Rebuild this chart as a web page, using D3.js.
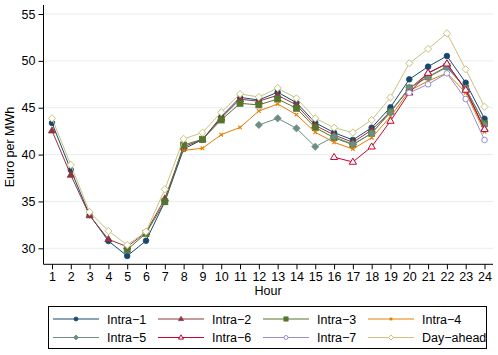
<!DOCTYPE html>
<html><head><meta charset="utf-8">
<script src="https://cdn.jsdelivr.net/npm/d3@7"></script>
<style>body{margin:0;background:#fff}svg{display:block;font-family:"Liberation Sans",Arial,sans-serif}</style>
</head><body><svg id="c" width="498" height="355"></svg>
<script>
const hours = d3.range(1, 25);
const yTicks = [30, 35, 40, 45, 50, 55];
const seriesNames = ["Intra\u22121","Intra\u22122","Intra\u22123","Intra\u22124","Intra\u22125","Intra\u22126","Intra\u22127","Day\u2212ahead"];
const intra1 = [43.37,38.36,33.55,30.78,29.18,30.81,34.97,40.6,41.6,44.05,46.1,45.83,46.65,45.54,43.4,42.34,41.56,42.87,45.05,48.03,49.38,50.52,47.67,43.83];
const intra2 = [42.55,37.82,33.5,30.96,30.17,31.7,35.3,40.84,41.6,43.9,45.9,45.7,46.33,45.3,43.1,42.1,41.3,42.63,44.6,47.0,48.7,49.7,46.9,42.76];
const intra3 = [null,null,null,null,29.85,31.6,34.97,41.02,41.63,43.69,45.47,45.3,45.93,44.94,42.87,41.8,41.05,42.27,44.6,47.1,48.3,49.4,47.07,43.3];
const intra4 = [null,null,null,null,null,null,null,40.45,40.67,42.12,42.9,44.65,45.4,44.26,42.38,41.3,40.6,41.8,44.05,46.8,47.85,48.7,46.6,42.44];
const intra5 = [null,null,null,null,null,null,null,null,null,null,null,43.16,43.87,42.8,40.84,41.91,41.1,42.27,44.48,47.14,48.25,49.3,47.07,43.16];
const intra6 = [null,null,null,null,null,null,null,null,null,null,null,null,null,null,null,39.72,39.21,40.84,43.58,46.6,48.7,49.7,46.9,42.7];
const intra7 = [null,null,null,null,null,null,null,null,null,null,null,null,null,null,null,null,null,null,null,46.6,47.5,48.67,45.93,41.56];
const dayAhead = [43.87,38.89,33.87,31.85,30.35,31.77,36.3,41.68,42.34,44.51,46.47,46.14,47.1,46.0,43.87,42.87,42.34,43.69,46.1,49.74,51.27,52.94,49.1,45.11];

const allValues = [intra1,intra2,intra3,intra4,intra5,intra6,intra7,dayAhead];
const colors = ["#1a476f","#90353b","#55752f","#e37e00","#6e8e84","#c10534","#938dd2","#cac27e"];
const symbols = ["circle","triangle","square","x","diamond","triangleH","circleH","diamondH"];

const svg = d3.select("#c");
const x = d3.scaleLinear().domain([1,24]).range([52,484.5]);
const y = d3.scaleLinear().domain([30,55]).range([248.3,14]);
const pLeft = 43.5, pBottom = 264.3, pTop = 5, pRight = 493;

// gridlines
svg.append("g").selectAll("line").data(yTicks).join("line")
  .attr("x1", pLeft).attr("x2", pRight).attr("y1", d=>y(d)).attr("y2", d=>y(d))
  .attr("stroke","#e6eeef").attr("stroke-width",1);

// axes
const yAxis = d3.axisLeft(y).tickValues(yTicks).tickSize(5).tickPadding(3);
const gy = svg.append("g").attr("transform",`translate(${pLeft},0)`).call(yAxis);
gy.select(".domain").attr("d",`M0,${pTop}V${pBottom}`);
gy.selectAll("text").attr("font-size",12.5).attr("fill","#000").attr("font-family","Liberation Sans, Arial, sans-serif");
const xAxis = d3.axisBottom(x).tickValues(hours).tickFormat(d3.format("d")).tickSize(5).tickPadding(3);
const gx = svg.append("g").attr("transform",`translate(0,${pBottom})`).call(xAxis);
gx.select(".domain").attr("d",`M${pLeft},0H${pRight}`);
gx.selectAll("text").attr("font-size",12.5).attr("fill","#000").attr("font-family","Liberation Sans, Arial, sans-serif");
svg.selectAll(".domain, .tick line").attr("stroke","#000");

svg.append("text").attr("transform","translate(14,147) rotate(-90)").attr("text-anchor","middle")
  .attr("font-size",12.5).text("Euro per MWh");
svg.append("text").attr("x",268).attr("y",295).attr("text-anchor","middle").attr("font-size",12.5).text("Hour");

function drawMarker(g, sym, color, cx, cy, s) {
  const hollow = sym.endsWith("H");
  const base = hollow ? sym.slice(0,-1) : sym;
  const fill = hollow ? "#fff" : color;
  let el;
  if (base === "circle") el = g.append("circle").attr("cx",cx).attr("cy",cy).attr("r",2.8*s);
  else if (base === "square") el = g.append("rect").attr("x",cx-3*s).attr("y",cy-3*s).attr("width",6*s).attr("height",6*s);
  else if (base === "triangle") { const r=3.8*s; el = g.append("path").attr("d",`M${cx},${cy-r}L${cx+r*0.95},${cy+r*0.6}L${cx-r*0.95},${cy+r*0.6}Z`); }
  else if (base === "diamond") { const r=3.6*s; el = g.append("path").attr("d",`M${cx},${cy-r}L${cx+r},${cy}L${cx},${cy+r}L${cx-r},${cy}Z`); }
  else if (base === "x") { const r=1.8*s; el = g.append("path").attr("d",`M${cx-r},${cy-r}L${cx+r},${cy+r}M${cx-r},${cy+r}L${cx+r},${cy-r}`).attr("stroke-width",1.1); }
  if (base === "x") el.attr("fill","none").attr("stroke",color);
  else el.attr("fill",fill).attr("stroke",color).attr("stroke-width",hollow?1:0.8);
}

const line = d3.line().defined(d=>d.v!=null).x(d=>x(d.h)).y(d=>y(d.v));
allValues.forEach((vals,i)=>{
  const pts = hours.map((h,j)=>({h, v: vals[j]}));
  const g = svg.append("g");
  g.append("path").attr("d", line(pts)).attr("fill","none").attr("stroke",colors[i]).attr("stroke-width",1);
  pts.filter(p=>p.v!=null).forEach(p=>drawMarker(g, symbols[i], colors[i], x(p.h), y(p.v), 1));
});

// legend
const lg = svg.append("g");
lg.append("rect").attr("x",48.5).attr("y",306.5).attr("width",438).attr("height",42).attr("fill","#fff").attr("stroke","#000").attr("stroke-width",1);
const colX = [53,158,263,368], rowY = [319,337.5];
seriesNames.forEach((name,i)=>{
  const cx = colX[i%4], cy = rowY[Math.floor(i/4)];
  lg.append("line").attr("x1",cx).attr("x2",cx+46).attr("y1",cy).attr("y2",cy).attr("stroke",colors[i]).attr("stroke-width",1);
  drawMarker(lg, symbols[i], colors[i], cx+23, cy, 0.7);
  lg.append("text").attr("x",cx+54).attr("y",cy+4.5).attr("font-size",12.5).text(name);
});
</script></body></html>
